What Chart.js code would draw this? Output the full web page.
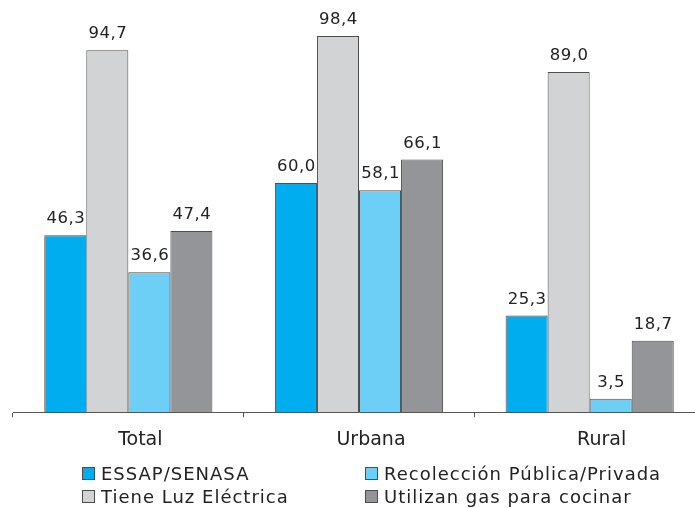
<!DOCTYPE html>
<html>
<head>
<meta charset="utf-8">
<script src="https://cdn.jsdelivr.net/npm/chart.js@4/dist/chart.umd.min.js"></script>
<style>
    html, body { margin: 0; padding: 0; background: #fff; overflow: hidden; }
    #wrap { position: relative; width: 695px; height: 508px; overflow: hidden; }
    #chart { position: absolute; left: 0; top: 0; }
    #legend { position: absolute; left: 0; top: 463px; width: 695px; font-family: "DejaVu Sans", sans-serif; font-size: 18px; letter-spacing: 1px; color: #222; }
    .item { position: absolute; display: flex; align-items: center; white-space: nowrap; }
    .box { width: 11px; height: 11px; border: 1px solid #4d4d4f; margin-right: 6px; }
</style>
</head>
<body>
<div id="wrap">
    <canvas id="chart" width="705" height="469"></canvas>
    <div id="legend"></div>
</div>
<script>
const categories = ['Total', 'Urbana', 'Rural'];
const seriesNames = ['ESSAP/SENASA', 'Tiene Luz Eléctrica', 'Recolección Pública/Privada', 'Utilizan gas para cocinar'];
const essapValues = [46.3, 60.0, 25.3];
const luzValues = [94.7, 98.4, 89.0];
const recoleccionValues = [36.6, 58.1, 3.5];
const gasValues = [47.4, 66.1, 18.7];
const seriesColors = ['#00aeef', '#d1d3d4', '#6dcff6', '#939598'];

const allValues = [essapValues, luzValues, recoleccionValues, gasValues];

// value labels above bars, decimal comma
const valueLabels = {
    id: 'valueLabels',
    afterDatasetsDraw(chart) {
        const ctx = chart.ctx;
        ctx.save();
        ctx.font = '16.5px "DejaVu Sans", sans-serif';
        ctx.letterSpacing = '0.5px';
        ctx.fillStyle = '#222';
        ctx.textAlign = 'center';
        ctx.textBaseline = 'bottom';
        chart.data.datasets.forEach((ds, i) => {
            chart.getDatasetMeta(i).data.forEach((bar, j) => {
                const txt = ds.data[j].toFixed(1).replace('.', ',');
                ctx.fillText(txt, bar.x + 0.5, bar.y - 8);
            });
        });
        ctx.restore();
    }
};

const chart = new Chart(document.getElementById('chart'), {
    type: 'bar',
    data: {
        labels: categories,
        datasets: allValues.map((vals, i) => ({
            label: seriesNames[i],
            data: vals,
            backgroundColor: seriesColors[i],
            borderColor: '#4d4d4f',
            borderWidth: 1,
            categoryPercentage: 0.729,
            barPercentage: 1
        }))
    },
    options: {
        responsive: false,
        animation: false,
        devicePixelRatio: 1,
        layout: { padding: { top: 30, left: 13, right: 0, bottom: 7 } },
        plugins: { legend: { display: false }, tooltip: { enabled: false } },
        scales: {
            x: {
                grid: { drawOnChartArea: false, tickLength: 5, color: '#555' },
                border: { display: true, color: '#555' },
                ticks: {
                    color: '#222',
                    padding: 11,
                    labelOffset: 12,
                    font: { family: '"DejaVu Sans", sans-serif', size: 19 }
                }
            },
            y: {
                display: false,
                min: 0,
                max: 100
            }
        }
    },
    plugins: [valueLabels]
});

// legend in two columns
const legendEl = document.getElementById('legend');
const legendOrder = [0, 2, 1, 3];
const colX = [82, 365];
legendOrder.forEach((idx, k) => {
    const item = document.createElement('div');
    item.className = 'item';
    item.style.left = colX[k % 2] + 'px';
    item.style.top = (Math.floor(k / 2) * 23) + 'px';
    item.innerHTML = '<span class="box" style="background:' + seriesColors[idx] + '"></span>' + seriesNames[idx];
    legendEl.appendChild(item);
});
</script>
</body>
</html>
